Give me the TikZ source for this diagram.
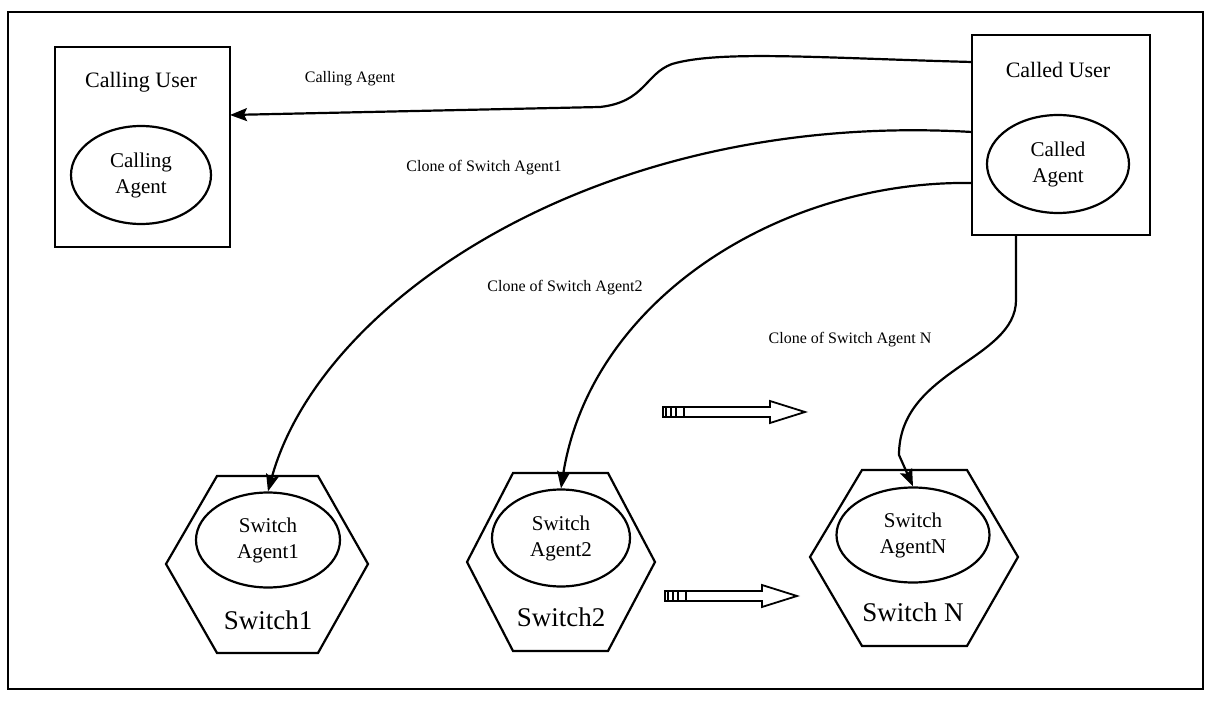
\documentclass[tikz,border=0pt]{standalone}
\usepackage{fontspec}
\setmainfont{Liberation Serif}
\usetikzlibrary{arrows.meta,shapes.geometric}
\begin{document}
\begin{tikzpicture}[x=1pt,y=-1pt,line width=2.2pt,
  userbox/.style={draw,rectangle,inner sep=0pt},
  agent/.style={draw,ellipse,inner sep=0pt,align=center,font=\fontsize{21}{26}\selectfont},
  title/.style={font=\fontsize{22}{26}\selectfont,inner sep=0pt},
  swname/.style={font=\fontsize{27}{30}\selectfont,inner sep=0pt},
  lbl/.style={font=\fontsize{16}{18}\selectfont,inner sep=0pt},
  conn/.style={draw,line width=2.2pt,-{Stealth[length=17pt,width=13pt,inset=3pt]}},
  hexa/.style={draw,line width=2.2pt,line join=miter},
  blockarrow/.style={draw,line width=1.8pt,fill=white,line join=miter}]
\useasboundingbox (0,0) rectangle (1205,703);
% outer frame
\draw[line width=2pt] (8,12) rectangle (1203,689);

% Calling user
\node[userbox,minimum width=175pt,minimum height=200pt] (cu) at (142.5,147) {};
\node[title] (cut) at (141,82) {Calling User};
\node[agent,minimum width=140pt,minimum height=98pt] (ca) at (141,175) {Calling\\Agent};

% Called user
\node[userbox,minimum width=178pt,minimum height=200pt] (cd) at (1061,135) {};
\node[title] (cdt) at (1058,70) {Called User};
\node[agent,minimum width=142pt,minimum height=98pt] (cda) at (1058,164) {Called\\Agent};

% connector start points on the called user box
\coordinate (e1) at (972,62);
\coordinate (e2) at (972,132);
\coordinate (e3) at (972,183);
\coordinate (e4) at (1016,235);
\coordinate (tipcu) at (230,115);

% switches
\draw[hexa] (217,476) -- (318,476) -- (368,564) -- (318,653) -- (217,653) -- (166,564) -- cycle;
\node[agent,minimum width=144pt,minimum height=95pt] (sa1) at (268,540) {Switch\\Agent1};
\node[swname] (s1) at (268,620) {Switch1};

\draw[hexa] (513,473) -- (608,473) -- (655,562) -- (608,651) -- (513,651) -- (467,562) -- cycle;
\node[agent,minimum width=138pt,minimum height=97pt] (sa2) at (561,538) {Switch\\Agent2};
\node[swname] (s2) at (561,617) {Switch2};

\draw[hexa] (862,470) -- (967,470) -- (1018,557) -- (967,646) -- (862,646) -- (810,557) -- cycle;
\node[agent,minimum width=153pt,minimum height=95pt] (san) at (913,535) {Switch\\AgentN};
\node[swname] (sn) at (913,612) {Switch N};

% connectors
\draw[conn] (e1) .. controls (820,58) and (720,50) .. (672,64)
  .. controls (645,74) and (645,102) .. (600,107) -- (tipcu);
\draw[conn] (e2) .. controls (600,110) and (320,300) .. (sa1.north);
\draw[conn] (e3) .. controls (780,180) and (590,300) .. (sa2.north);
\draw[conn] (e4) -- (1016,300) .. controls (1016,360) and (899,370) .. (899,455) -- (san.north);

% labels
\node[lbl] (l0) at (350,79) {Calling Agent};
\node[lbl] (l1) at (484,168) {Clone of Switch Agent1};
\node[lbl] (l2) at (565,288) {Clone of Switch Agent2};
\node[lbl] (l3) at (850,340) {Clone of Switch Agent N};

% block arrows
\draw[blockarrow] (663,407) -- (770,407) -- (770,401) -- (805,412) -- (770,423) -- (770,417) -- (663,417) -- cycle;
\foreach \xx in {666,671,676,684} \draw[line width=2.4pt] (\xx,406) -- (\xx,418);
\draw[blockarrow] (665,591) -- (762,591) -- (762,585) -- (797,596) -- (762,607) -- (762,601) -- (665,601) -- cycle;
\foreach \xx in {668,673,678,686} \draw[line width=2.4pt] (\xx,590) -- (\xx,602);
\end{tikzpicture}
\end{document}
